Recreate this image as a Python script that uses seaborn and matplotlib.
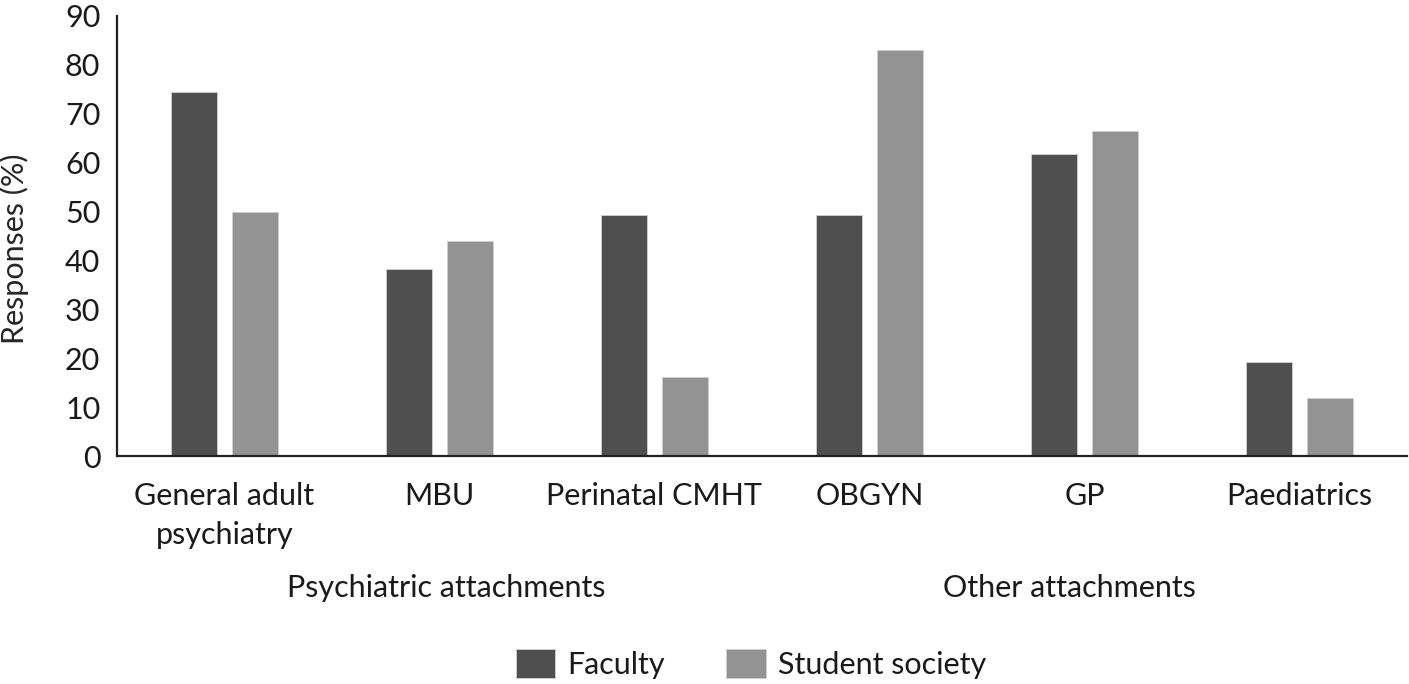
import matplotlib
matplotlib.use("Agg")
import matplotlib.pyplot as plt
import seaborn as sns
import pandas as pd

# Chart data
attachments = ["General adult\npsychiatry", "MBU", "Perinatal CMHT",
               "OBGYN", "GP", "Paediatrics"]
faculty = [74.5, 38.2, 49.2, 49.2, 61.8, 19.3]
student_society = [50.0, 44.0, 16.1, 83.1, 66.5, 11.9]
groups = ["Psychiatric attachments", "Other attachments"]
sources = ["Faculty", "Student society"]
colours = ["#4f4f4f", "#939393"]

df = pd.DataFrame({
    "Attachment": attachments * 2,
    "Source": [sources[0]] * len(attachments) + [sources[1]] * len(attachments),
    "Responses": faculty + student_society,
})

sns.set_theme(style="white")
plt.rcParams["font.family"] = ["Lato", "DejaVu Sans"]
plt.rcParams["text.color"] = "#1a1a1a"
fs = 22

fig = plt.figure(figsize=(14.09, 6.84), dpi=100)
ax = fig.add_axes([117 / 1409, 1 - 456 / 684, 1290 / 1409, 440 / 684])

sns.barplot(data=df, x="Attachment", y="Responses", hue="Source",
            palette=colours, width=0.567, gap=0.23, ax=ax,
            edgecolor="#d0d0d0", linewidth=0.6, legend=True)

ax.set_ylim(0, 90)
ax.set_xlim(-0.5, len(attachments) - 0.5)
ax.set_yticks(range(0, 91, 10))
ax.set_xlabel("")
ax.set_ylabel("Responses (%)", fontsize=fs, labelpad=22)
ax.yaxis.set_label_coords(-0.068, 0.47)
ax.tick_params(axis="both", length=0, labelsize=fs, colors="#1a1a1a")
ax.tick_params(axis="y", pad=12)
ax.tick_params(axis="x", pad=19)
for lab in ax.get_xticklabels():
    lab.set_verticalalignment("top")
    lab.set_linespacing(1.45)

sns.despine(ax=ax)
for side in ["left", "bottom"]:
    ax.spines[side].set_color("#222222")
    ax.spines[side].set_linewidth(1.6)

# group labels under the category labels
fig.text(446 / 1409, 1 - 588 / 684, groups[0], ha="center", va="center",
         fontsize=fs)
fig.text(1069 / 1409, 1 - 588 / 684, groups[1], ha="center", va="center",
         fontsize=fs)

# legend at the bottom
handles, labels = ax.get_legend_handles_labels()
ax.legend_.remove()
fig.legend(handles, labels, loc="center", bbox_to_anchor=(751 / 1409, 1 - 664 / 684),
           ncol=2, frameon=False, fontsize=fs, handlelength=1.3,
           handleheight=1.1, handletextpad=0.4, columnspacing=2.0)

fig.savefig("out.png", dpi=100)
